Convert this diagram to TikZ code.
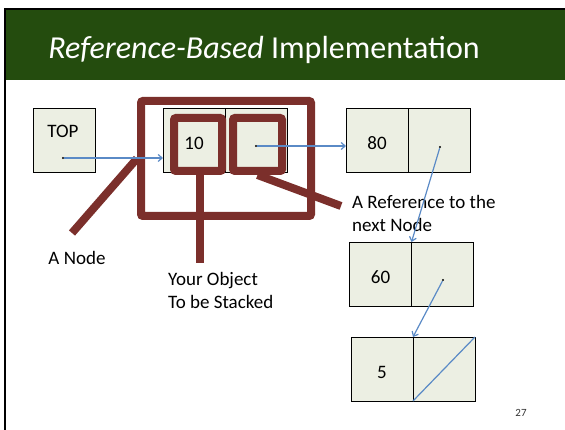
\documentclass[tikz,border=0pt]{standalone}
\usepackage{fontspec}
\setmainfont{Carlito}
\usepackage{tikz}
\usetikzlibrary{positioning, calc, arrows.meta}
\definecolor{hdrgreen}{HTML}{244C0E}
\definecolor{hlred}{HTML}{7B2F2B}
\definecolor{cellfill}{HTML}{ECEFE3}
\definecolor{ptrblue}{HTML}{5A8AC6}
\tikzstyle{cell} = [rectangle, draw=black, fill=cellfill, minimum width=62pt, minimum height=64pt, inner sep=0pt, outer sep=0pt, text height=0pt, text depth=0pt, font=\fontsize{19}{23}\selectfont]
\tikzstyle{dot} = [circle, fill=black, inner sep=0.8pt]
\tikzstyle{hlbox} = [rectangle, draw=hlred, line width=8pt, rounded corners=2pt, inner sep=0pt]
\tikzstyle{hlline} = [draw=hlred, line width=8pt]
\tikzstyle{ptr} = [draw=ptrblue, line width=1.2pt, -{Straight Barb[length=4pt,width=7pt]}]
\tikzstyle{lbl} = [font=\fontsize{19}{23}\selectfont, align=left, inner sep=0pt]
\newcommand{\celltext}[1]{\raisebox{-9.5pt}{#1}}

\begin{document}
\begin{tikzpicture}[x=1pt, y=-1pt]
\useasboundingbox (0,0) rectangle (565,430);

% Header bar
\fill[hdrgreen] (6,10) rectangle (565,80);
\draw[black, line width=2.5pt] (5,430) -- (5,9) -- (565,9);
\node[anchor=base, text=white, font=\fontsize{32}{38}\selectfont] (title) at (264,59) {\textit{Reference-Based} Implementation};

% Top pointer
\node[cell] (top) at (64.5,140) {};
\node[lbl] (toplbl) at (63,131) {TOP};
\node[dot] (topdot) at (63,158) {};

% Linked nodes
\node[cell] (n1d) at (194,140) {\celltext{10}};
\node[cell, right=0pt of n1d] (n1r) {};
\node[cell] (n2d) at (377,140) {\celltext{80}};
\node[cell, right=0pt of n2d] (n2r) {};
\node[cell] (n3d) at (380.5,274) {\celltext{60}};
\node[cell, right=0pt of n3d] (n3r) {};
\node[cell] (n4d) at (382,369) {\celltext{5}};
\node[cell, right=0pt of n4d] (n4r) {};

% Highlights
\node[hlbox, minimum width=170pt, minimum height=115pt] (hlnode) at (226,158.5) {};
\node[hlbox, minimum width=48pt, minimum height=53pt] (hlobj) at (198,144.5) {};
\node[hlbox, minimum width=49pt, minimum height=53pt] (hlref) at (257.5,144.5) {};
\coordinate (anodeend) at (72,233);
\coordinate (objend) at (200,263);
\coordinate (refend) at (341,206);
\draw[hlline] (hlnode.west) -- (anodeend);
\draw[hlline] (hlobj.south -| objend) -- (objend);
\draw[hlline] (hlref.south) -- (refend);

% Labels
\node[lbl] (anode) at (77,258) {A Node};
\node[lbl, anchor=north west] (objlbl) at (168,272) {Your Object\\To be Stacked};
\node[lbl, anchor=north west] (reflbl) at (352,195) {A Reference to the\\next Node};

% Pointers
\node[dot] (n1dot) at (256,146) {};
\node[dot] (n2dot) at (440,147) {};
\node[dot] (n3dot) at (443,280) {};
\draw[ptr] (topdot) -- (topdot -| n1d.west);
\draw[ptr] (n1dot) -- (n1dot -| n2d.west);
\draw[ptr] (n2dot) -- (n3d.north east);
\draw[ptr] (n3dot) -- (n4d.north east);
\draw[ptrblue, line width=1.2pt] (n4r.south west) -- (n4r.north east);

% Page number
\node[font=\fontsize{11}{13}\selectfont, text=black!80] (pgnum) at (521,413) {27};
\end{tikzpicture}
\end{document}
